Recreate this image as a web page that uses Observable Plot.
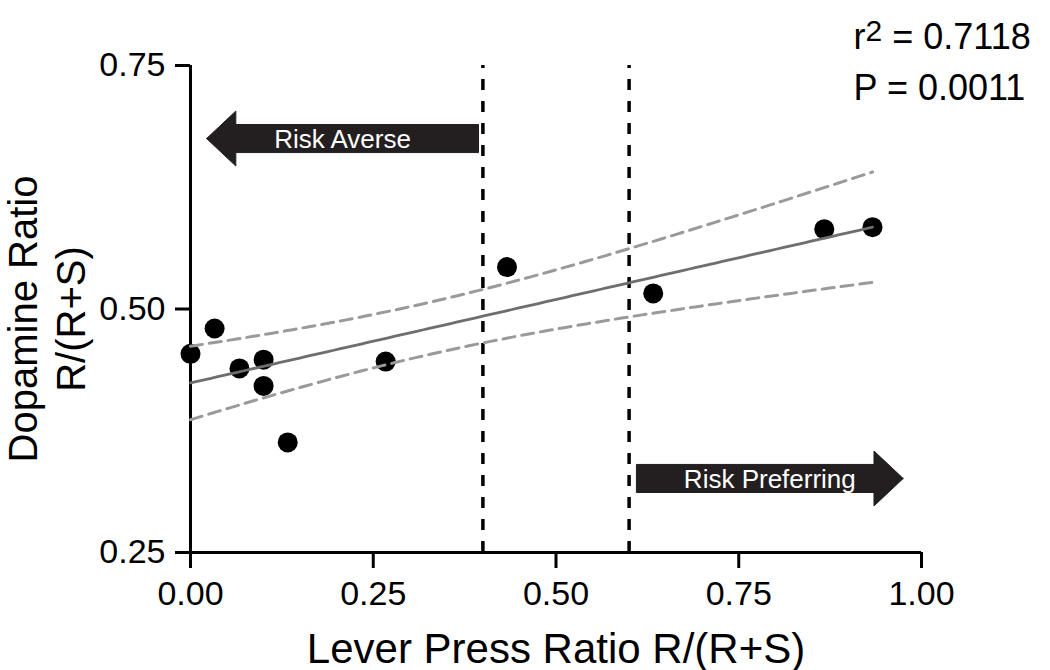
<!DOCTYPE html>
<html><head><meta charset="utf-8">
<script src="https://cdn.jsdelivr.net/npm/d3@7"></script>
<script src="https://cdn.jsdelivr.net/npm/@observablehq/plot@0.6"></script>
<style>
body{margin:0;background:#fff;}
#chart{width:1050px;height:670px;}
</style></head><body><div id="chart"></div>
<script>
// ---- data ----
const leverRatio    = [0, 0.033, 0.067, 0.100, 0.100, 0.133, 0.267, 0.433, 0.633, 0.867, 0.933];
const dopamineRatio = [0.454, 0.480, 0.439, 0.448, 0.421, 0.363, 0.446, 0.543, 0.516, 0.582, 0.584];
const xTicks = [0, 0.25, 0.5, 0.75, 1];
const yTicks = [0.25, 0.5, 0.75];
const thresholds = [0.4, 0.6];
const r2Text = "0.7118";
const pText = "0.0011";
const arrowLabels = ["Risk Averse", "Risk Preferring"];
const arrowTail = [0.394, 0.610];
const arrowTip  = [0.022, 0.975];
const arrowLevel = [0.675, 0.326];
const xLabel = "Lever Press Ratio R/(R+S)";
const yLabel = "Dopamine Ratio\nR/(R+S)";

// ---- linear regression with 95% confidence band ----
const pts = leverRatio.map((x, i) => ({x, y: dopamineRatio[i]}));
const n = pts.length;
const mx = d3.mean(pts, d => d.x), my = d3.mean(pts, d => d.y);
const sxx = d3.sum(pts, d => (d.x - mx) ** 2);
const sxy = d3.sum(pts, d => (d.x - mx) * (d.y - my));
const syy = d3.sum(pts, d => (d.y - my) ** 2);
const slope = sxy / sxx, intercept = my - slope * mx;
const s = Math.sqrt((syy - slope * sxy) / (n - 2));
const tcrit = 2.262; // t(0.975, df = 9)
const xmin = d3.min(leverRatio), xmax = d3.max(leverRatio);
const fit = d3.range(0, 101).map(k => {
  const x = xmin + (xmax - xmin) * k / 100;
  const yh = intercept + slope * x;
  const se = s * Math.sqrt(1 / n + (x - mx) ** 2 / sxx);
  return {x, y: yh, lo: yh - tcrit * se, hi: yh + tcrit * se};
});

// ---- arrow polygons (head length in x units, half-heights in y units) ----
const headLen = 0.040, headHalf = 0.0282, bodyHalf = 0.0144;
const arrowPolys = [];
arrowLabels.forEach((lab, i) => {
  const dir = Math.sign(arrowTip[i] - arrowTail[i]);
  const tip = arrowTip[i], base = tip - dir * headLen, tail = arrowTail[i], y = arrowLevel[i];
  [[tip, y], [base, y + headHalf], [base, y + bodyHalf], [tail, y + bodyHalf],
   [tail, y - bodyHalf], [base, y - bodyHalf], [base, y - headHalf], [tip, y]]
    .forEach(([px, py]) => arrowPolys.push({arrow: lab, x: px, y: py}));
});
const arrowText = arrowLabels.map((lab, i) => ({
  label: lab,
  x: (arrowTail[i] + arrowTip[i]) / 2,
  y: arrowLevel[i]
}));

const font = "Liberation Sans, Arial, Helvetica, sans-serif";

const plot = Plot.plot({
  width: 1050, height: 670,
  marginLeft: 190, marginRight: 129, marginTop: 65, marginBottom: 118,
  style: {fontFamily: font, fontSize: "34px", color: "#000", background: "#fff"},
  x: {domain: [0, 1], axis: null},
  y: {domain: [0.25, 0.75], axis: null},
  marks: [
    // axes
    Plot.axisY({ticks: yTicks, tickFormat: d3.format(".2f"), tickSize: 15, tickPadding: 10,
      strokeWidth: 3, fontSize: 34, label: null}),
    Plot.axisX({ticks: xTicks, tickFormat: d3.format(".2f"), tickSize: 16, tickPadding: 12,
      strokeWidth: 3, fontSize: 34, label: null}),
    Plot.ruleX([0], {y1: 0.25, y2: 0.75, strokeWidth: 3, stroke: "#000"}),
    Plot.ruleY([0.25], {x1: 0, x2: 1, strokeWidth: 3, stroke: "#000"}),
    // thresholds
    Plot.ruleX(thresholds, {y1: 0.25, y2: 0.75, stroke: "#000", strokeWidth: 3.5, strokeDasharray: "11,11"}),
    // arrows
    Plot.line(arrowPolys, {x: "x", y: "y", z: "arrow", fill: "#231f20", stroke: "#231f20", strokeWidth: 1, curve: "linear"}),
    Plot.text(arrowText, {x: "x", y: "y", text: "label", fill: "#fff", fontSize: 26, lineAnchor: "middle", textAnchor: "middle", dy: 1}),
    // points
    Plot.dot(pts, {x: "x", y: "y", r: 10, fill: "#000", stroke: null}),
    // regression + confidence band
    Plot.line(fit, {x: "x", y: "hi", stroke: "#9a9a9a", strokeWidth: 3, strokeDasharray: "12,7"}),
    Plot.line(fit, {x: "x", y: "lo", stroke: "#9a9a9a", strokeWidth: 3, strokeDasharray: "12,7"}),
    Plot.line(fit, {x: "x", y: "y", stroke: "#6e6e6e", strokeWidth: 2.8}),
    // stats
    Plot.text([`r2 = ${r2Text}`], {x: 0.907, y: 0.7674, text: d => d, textAnchor: "start", lineAnchor: "bottom", fontSize: 36}),
    Plot.text([`P = ${pText}`], {x: 0.907, y: 0.7141, text: d => d, textAnchor: "start", lineAnchor: "bottom", fontSize: 36}),
    // axis titles
    Plot.text([xLabel], {frameAnchor: "bottom", dy: 110, text: d => d, lineAnchor: "bottom", textAnchor: "middle", fontSize: 42}),
    Plot.text([yLabel], {frameAnchor: "left", dx: -106, dy: 10, text: d => d, rotate: -90, lineAnchor: "bottom", textAnchor: "middle", lineHeight: 1.2, fontSize: 40})
  ]
});

// superscript for r²
d3.select(plot).selectAll("text").filter(function () { return this.textContent === `r2 = ${r2Text}`; })
  .each(function () {
    const t = d3.select(this);
    t.text(null);
    t.append("tspan").text("r");
    t.append("tspan").attr("font-size", 30).attr("dy", -8).text("2");
    t.append("tspan").attr("dy", 8).text(` = ${r2Text}`);
  });

document.getElementById("chart").appendChild(plot);
</script>
</body></html>
